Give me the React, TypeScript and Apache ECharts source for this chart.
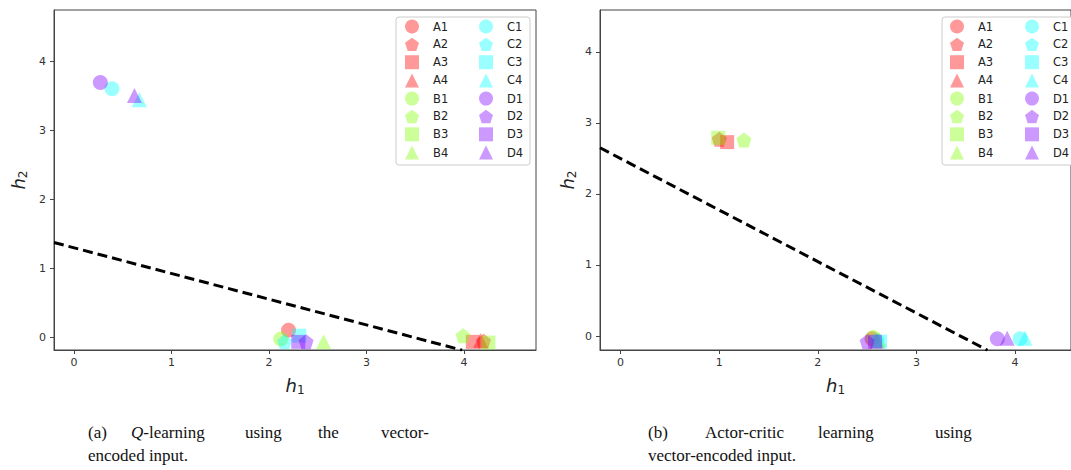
import React, { useEffect, useRef } from "react";
import * as echarts from "echarts";

// Point labels (A–D groups, 1–4 marker shapes)
const names = ["A1", "A2", "A3", "A4", "B1", "B2", "B3", "B4", "C1", "C2", "C3", "C4", "D1", "D2", "D3", "D4"];

// (a) Q-learning, vector-encoded input
const qH1 = [2.2, 4.2, 4.09, 4.17, 2.12, 3.99, 4.25, 2.56, 0.39, 2.16, 2.31, 0.67, 0.27, 2.38, 2.3, 0.62];
const qH2 = [0.1, -0.06, -0.07, -0.05, -0.03, 0.02, -0.08, -0.07, 3.6, -0.07, 0.02, 3.44, 3.69, -0.07, -0.07, 3.5];
const qBoundary = [[-0.205, 1.37], [3.98, -0.19]];

// (b) Actor-critic, vector-encoded input
const acH1 = [2.55, 1.0, 1.08, 2.6, 2.56, 1.25, 0.99, 2.62, 4.05, 2.6, 2.63, 4.1, 3.82, 2.5, 2.58, 3.92];
const acH2 = [-0.04, 2.77, 2.73, -0.07, -0.02, 2.76, 2.79, -0.05, -0.04, -0.06, -0.08, -0.03, -0.04, -0.08, -0.08, -0.03];
const acBoundary = [[-0.209, 2.65], [3.72, -0.2]];

const tickValues = [0, 1, 2, 3, 4];

const groupColor: Record<string, string> = {
  A: "rgba(255,0,0,0.5)",
  B: "rgba(127,255,0,0.5)",
  C: "rgba(0,255,255,0.5)",
  D: "rgba(127,0,255,0.5)",
};
const PENTAGON = "path://M0,-1 L0.951,-0.309 L0.588,0.809 L-0.588,0.809 L-0.951,-0.309 Z";
const shapeFor: Record<string, string> = { "1": "circle", "2": PENTAGON, "3": "rect", "4": "triangle" };
const symSize: Record<string, number> = { "1": 15, "2": 15, "3": 14, "4": 15 };

const FONT = "DejaVu Sans";

function axisPair(idx: number, xmin: number, xmax: number, ymin: number, ymax: number, yGap: number) {
  const common = {
    axisLine: { show: true, onZero: false, lineStyle: { color: "#444", width: 1 } },
    axisTick: { show: true, length: 4, customValues: tickValues, lineStyle: { color: "#444" } },
    splitLine: { show: false },
  };
  const rich = {
    i: { fontSize: 18, fontStyle: "italic", fontFamily: FONT, color: "#222" },
    s: { fontSize: 12, fontFamily: FONT, color: "#222", padding: [10, 0, 0, 0] },
  };
  const xAxis = {
    type: "value",
    gridIndex: idx,
    min: xmin,
    max: xmax,
    ...common,
    axisLabel: { customValues: tickValues, color: "#333", fontSize: 11, fontFamily: FONT, margin: 7 },
    name: "{i|h}{s|1}",
    nameLocation: "middle",
    nameGap: 24,
    nameTextStyle: { rich },
  };
  const yAxis = {
    type: "value",
    gridIndex: idx,
    min: ymin,
    max: ymax,
    ...common,
    axisLabel: { customValues: tickValues, color: "#333", fontSize: 11, fontFamily: FONT, margin: 8 },
    name: "{i|h}{s|2}",
    nameLocation: "middle",
    nameRotate: 90,
    nameGap: yGap,
    nameTextStyle: { rich },
  };
  return { xAxis, yAxis };
}

function scatterSeries(xs: number[], ys: number[], idx: number) {
  return names.map((n, i) => ({
    type: "scatter",
    name: n,
    xAxisIndex: idx,
    yAxisIndex: idx,
    symbol: shapeFor[n[1]],
    symbolSize: symSize[n[1]],
    itemStyle: { color: groupColor[n[0]] },
    data: [[xs[i], ys[i]]],
    z: 3,
  }));
}

function boundarySeries(pts: number[][], idx: number) {
  return {
    type: "line",
    name: "boundary",
    xAxisIndex: idx,
    yAxisIndex: idx,
    data: pts,
    symbol: "none",
    clip: true,
    lineStyle: { color: "#000", width: 3, type: [10, 5] },
    z: 2,
  };
}

function legendCol(data: string[], left: number) {
  return {
    data,
    left,
    top: 19.5,
    orient: "vertical",
    itemWidth: 14,
    itemHeight: 14,
    itemGap: 4.2,
    padding: 0,
    selectedMode: false,
    textStyle: { color: "#222", fontSize: 11.5, fontFamily: FONT, padding: [0, 0, 0, 9] },
    z: 6,
  };
}

function captionWords(words: [string, number][], y: number) {
  return words.map(([w, x]) => ({
    type: "text",
    x,
    y,
    style: {
      text: w,
      fontFamily: "Liberation Serif",
      fontSize: 17,
      fill: "#111",
      textVerticalAlign: "middle",
      rich: { q: { fontStyle: "italic", fontFamily: "Liberation Serif", fontSize: 17, fill: "#111" } },
    },
  }));
}

export default function App() {
  const ref = useRef<HTMLDivElement>(null);
  useEffect(() => {
    if (!ref.current) return;
    const chart = echarts.init(ref.current, undefined, { renderer: "svg" });
    const a = axisPair(0, -0.205, 4.738, -0.188, 4.74, 25);
    const b = axisPair(1, -0.209, 4.567, -0.197, 4.59, 22);
    const option: any = {
      animation: false,
      backgroundColor: "#fff",
      grid: [
        { left: 54, top: 10, width: 482, height: 340, show: true, borderColor: "#444", borderWidth: 1, backgroundColor: "transparent" },
        { left: 600, top: 10, width: 480, height: 340, show: true, borderColor: "#444", borderWidth: 1, backgroundColor: "transparent" },
      ],
      xAxis: [a.xAxis, b.xAxis],
      yAxis: [a.yAxis, b.yAxis],
      legend: [
        legendCol(names.slice(0, 8), 405),
        legendCol(names.slice(8), 479),
        legendCol(names.slice(0, 8), 950),
        legendCol(names.slice(8), 1025),
      ],
      graphic: [
        { type: "rect", shape: { x: 396, y: 17, width: 134, height: 148, r: 3 }, style: { fill: "#fff", stroke: "#ccc", lineWidth: 1 }, z: 5 },
        { type: "rect", shape: { x: 942, y: 17, width: 134, height: 148, r: 3 }, style: { fill: "#fff", stroke: "#ccc", lineWidth: 1 }, z: 5 },
        ...captionWords([["(a)", 88], ["{q|Q}-learning", 131], ["using", 245], ["the", 318], ["vector-", 381]], 432),
        ...captionWords([["encoded input.", 88]], 455),
        ...captionWords([["(b)", 648], ["Actor-critic", 705], ["learning", 818], ["using", 935]], 432),
        ...captionWords([["vector-encoded input.", 648]], 455),
      ],
      series: [
        boundarySeries(qBoundary, 0),
        ...scatterSeries(qH1, qH2, 0),
        boundarySeries(acBoundary, 1),
        ...scatterSeries(acH1, acH2, 1),
      ],
    };
    chart.setOption(option);
    return () => chart.dispose();
  }, []);
  return <div ref={ref} style={{ position: "fixed", left: 0, top: 0, width: 1071, height: 470 }} />;
}
